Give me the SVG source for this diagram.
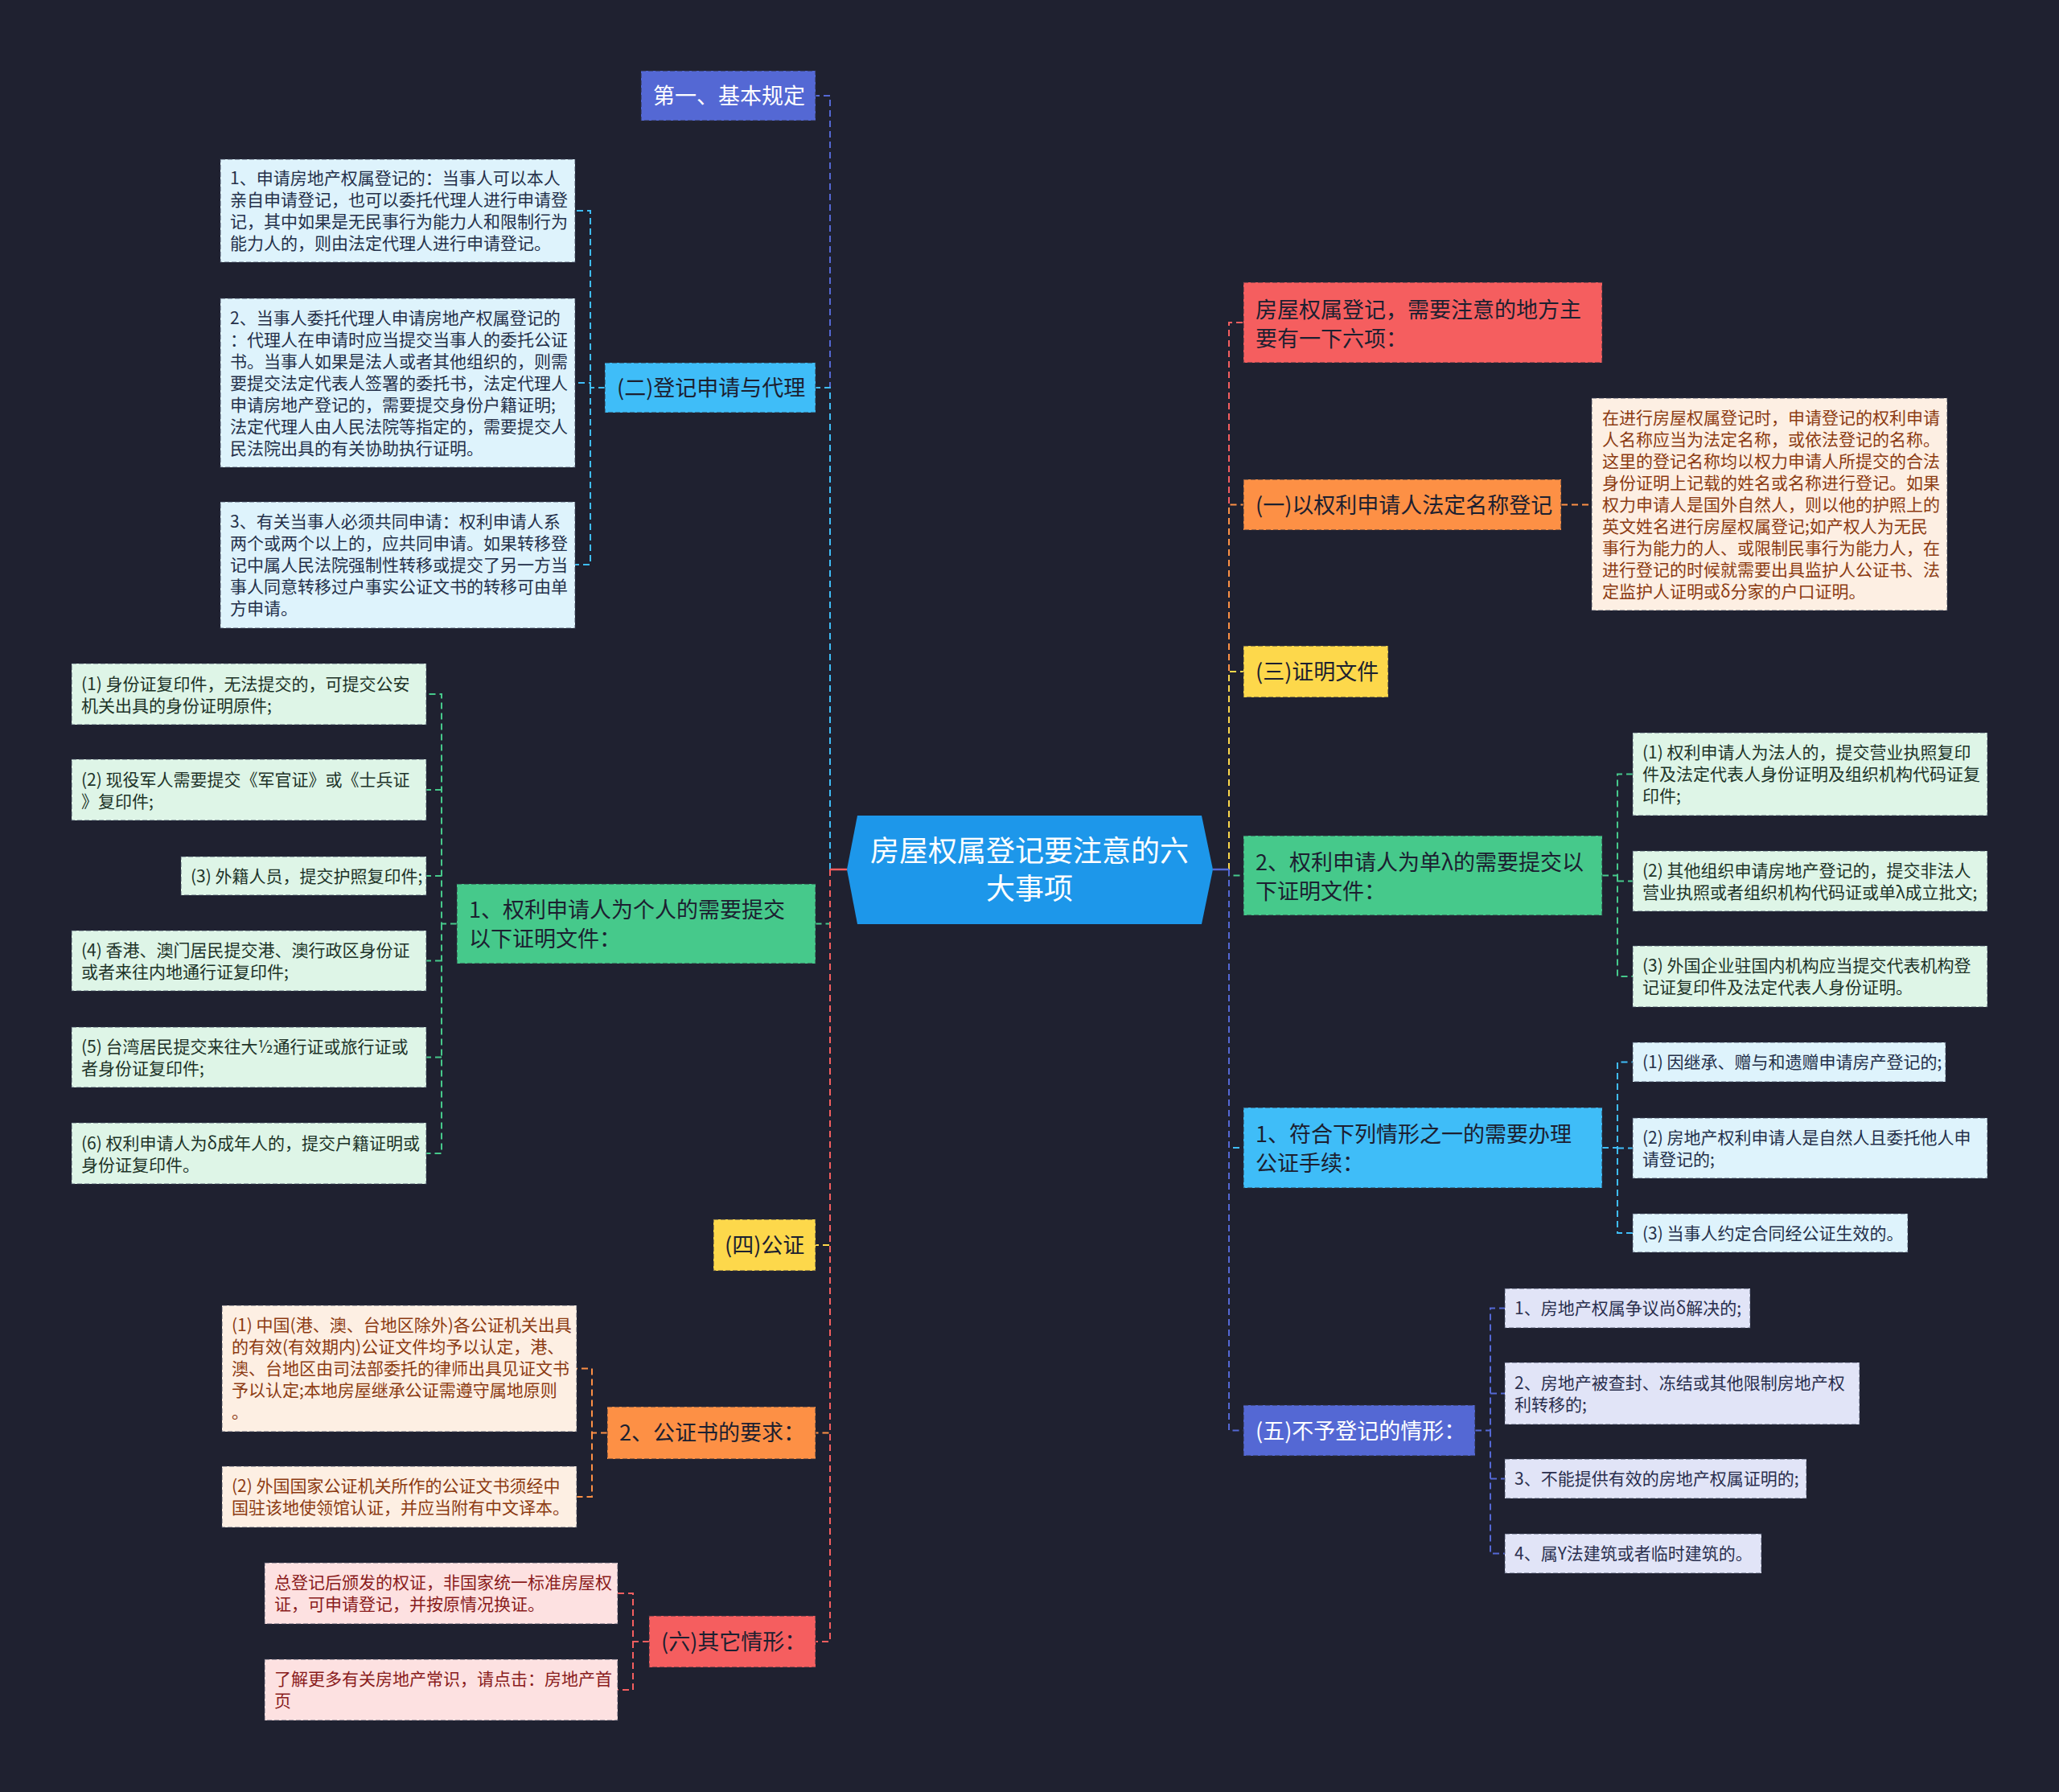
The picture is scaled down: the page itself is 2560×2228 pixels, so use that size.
<svg xmlns="http://www.w3.org/2000/svg" width="2560" height="2228" viewBox="0 0 2560 2228">
<style>
text{font-family:"Noto Sans CJK SC","Noto Sans",sans-serif;}
.m{font-size:27px;fill:#1c2030;}
.mw{font-size:27px;fill:#ffffff;}
.l{font-size:21px;}
.nb{stroke:#2a2c3a;stroke-opacity:.45;stroke-width:2;stroke-dasharray:6 3;}
.lb{stroke:#3a3f55;stroke-opacity:.5;stroke-width:1.5;stroke-dasharray:6 3;}
.c{fill:none;stroke-width:2;stroke-dasharray:8 5;}
.purple{stroke:#5468d4;} .cyan{stroke:#3fbdf8;} .green{stroke:#46c98b;} .yellow{stroke:#fdd84b;} .orange{stroke:#fd9045;} .red{stroke:#f55e5f;}
.fpurple{fill:#5468d4;} .fcyan{fill:#3fbdf8;} .fgreen{fill:#46c98b;} .fyellow{fill:#fdd84b;} .forange{fill:#fd9045;} .fred{fill:#f55e5f;}
.lc{fill:#def3fc;} .lg{fill:#def5e7;} .lp{fill:#fdefe3;} .lk{fill:#fde1e1;} .lv{fill:#e1e4f7;}
.tc{fill:#24304a;} .tg{fill:#203328;} .tp{fill:#8c3b12;} .tk{fill:#8a1c1c;} .tv{fill:#2a2f4e;}
</style>
<rect width="2560" height="2228" fill="#1f2130"/>

<g id="connectors">
  <!-- left top -->
  <path class="c purple" d="M1032,1081 V119 H1014"/>
  <path class="c cyan" d="M1032,1081 V482 H1014"/>
  <!-- left bottom -->
  <path class="c green" d="M1032,1081 V1148.5 H1014"/>
  <path class="c yellow" d="M1032,1081 V1548 H1014"/>
  <path class="c orange" d="M1032,1081 V1781.5 H1014"/>
  <path class="c red" d="M1032,1081 V2041 H1014"/>
  <line x1="1053" y1="1081" x2="1032" y2="1081" stroke="#f55e5f" stroke-width="2.5"/>
  <!-- right top -->
  <path class="c red" d="M1528,1081 V401 H1546"/>
  <path class="c orange" d="M1528,1081 V627.5 H1546"/>
  <path class="c yellow" d="M1528,1081 V835 H1546"/>
  <!-- right bottom -->
  <path class="c green" d="M1528,1081 V1088.5 H1546"/>
  <path class="c cyan" d="M1528,1081 V1427 H1546"/>
  <path class="c purple" d="M1528,1081 V1778.5 H1546"/>
  <line x1="1508" y1="1081" x2="1528" y2="1081" stroke="#5468d4" stroke-width="2.5"/>

  <!-- (二) leaves -->
  <path class="c cyan" d="M752,482 H734 V262 H715 M734,482 V476 H715 M734,482 V702 H715"/>
  <!-- 1、权利 leaves -->
  <path class="c green" d="M568,1148.5 H549 V863 H530 M549,982 H530 M549,1089 H530 M549,1148.5 V1434 H530 M549,1194.5 H530 M549,1314.5 H530"/>
  <!-- 2、公证书 leaves -->
  <path class="c orange" d="M755,1781.5 H736 V1701.5 H717 M736,1781.5 V1861 H717"/>
  <!-- (六) leaves -->
  <path class="c red" d="M807,2041 H787 V1981 H768 M787,2041 V2101 H768"/>
  <!-- B leaf -->
  <path class="c orange" d="M1941,627.5 H1979"/>
  <!-- D leaves -->
  <path class="c green" d="M1992,1088.5 H2011 V962.5 H2030 M2011,1088.5 V1214 H2030 M2011,1095.5 H2030"/>
  <!-- E leaves -->
  <path class="c cyan" d="M1992,1427 H2011 V1320.5 H2030 M2011,1427 V1533 H2030 M2011,1427.5 H2030"/>
  <!-- F leaves -->
  <path class="c purple" d="M1834,1778.5 H1853 V1626.5 H1871 M1853,1778.5 V1931.5 H1871 M1853,1732.5 H1871 M1853,1838.5 H1871"/>
</g>

<g id="center">
  <polygon points="1053,1081 1066,1014 1494,1014 1508,1081 1494,1149 1066,1149" fill="#1d97ea"/>
  <text x="1280" y="1071" text-anchor="middle" font-size="36" fill="#ffffff">房屋权属登记要注意的六</text>
  <text x="1280" y="1118" text-anchor="middle" font-size="36" fill="#ffffff">大事项</text>
</g>

<!-- LEFT main nodes -->
<g id="n-jiben">
  <rect x="797" y="88" width="217" height="62" class="fpurple nb"/>
  <text x="812" y="129" class="mw">第一、基本规定</text>
</g>
<g id="n-er">
  <rect x="752" y="451" width="262" height="62" class="fcyan nb"/>
  <text x="767" y="492" class="m">(二)登记申请与代理</text>
</g>
<g id="n-geren">
  <rect x="568" y="1099" width="446" height="99" class="fgreen nb"/>
  <text x="583" y="1141" class="m">1、权利申请人为个人的需要提交</text>
  <text x="583" y="1177" class="m">以下证明文件：</text>
</g>
<g id="n-si">
  <rect x="887" y="1516" width="127" height="64" class="fyellow nb"/>
  <text x="901" y="1558" class="m">(四)公证</text>
</g>
<g id="n-gzs">
  <rect x="755" y="1749" width="259" height="65" class="forange nb"/>
  <text x="770" y="1791" class="m">2、公证书的要求：</text>
</g>
<g id="n-liu">
  <rect x="807" y="2009" width="207" height="64" class="fred nb"/>
  <text x="822" y="2051" class="m">(六)其它情形：</text>
</g>

<!-- (二) leaves -->
<g id="l-er-1">
  <rect x="274" y="198" width="441" height="128" class="lc lb"/>
  <text class="l tc" x="286" y="229">1、申请房地产权属登记的：当事人可以本人</text>
  <text class="l tc" x="286" y="256">亲自申请登记，也可以委托代理人进行申请登</text>
  <text class="l tc" x="286" y="283">记，其中如果是无民事行为能力人和限制行为</text>
  <text class="l tc" x="286" y="310">能力人的，则由法定代理人进行申请登记。</text>
</g>
<g id="l-er-2">
  <rect x="274" y="371" width="441" height="210" class="lc lb"/>
  <text class="l tc" x="286" y="402.5">2、当事人委托代理人申请房地产权属登记的</text>
  <text class="l tc" x="286" y="429.5">：代理人在申请时应当提交当事人的委托公证</text>
  <text class="l tc" x="286" y="456.5">书。当事人如果是法人或者其他组织的，则需</text>
  <text class="l tc" x="286" y="483.5">要提交法定代表人签署的委托书，法定代理人</text>
  <text class="l tc" x="286" y="510.5">申请房地产登记的，需要提交身份户籍证明;</text>
  <text class="l tc" x="286" y="537.5">法定代理人由人民法院等指定的，需要提交人</text>
  <text class="l tc" x="286" y="564.5">民法院出具的有关协助执行证明。</text>
</g>
<g id="l-er-3">
  <rect x="274" y="624" width="441" height="157" class="lc lb"/>
  <text class="l tc" x="286" y="656">3、有关当事人必须共同申请：权利申请人系</text>
  <text class="l tc" x="286" y="683">两个或两个以上的，应共同申请。如果转移登</text>
  <text class="l tc" x="286" y="710">记中属人民法院强制性转移或提交了另一方当</text>
  <text class="l tc" x="286" y="737">事人同意转移过户事实公证文书的转移可由单</text>
  <text class="l tc" x="286" y="764">方申请。</text>
</g>

<!-- 个人 leaves -->
<g id="l-gr-1">
  <rect x="89" y="825" width="441" height="76" class="lg lb"/>
  <text class="l tg" x="101" y="858">(1) 身份证复印件，无法提交的，可提交公安</text>
  <text class="l tg" x="101" y="885">机关出具的身份证明原件;</text>
</g>
<g id="l-gr-2">
  <rect x="89" y="944" width="441" height="76" class="lg lb"/>
  <text class="l tg" x="101" y="977">(2) 现役军人需要提交《军官证》或《士兵证</text>
  <text class="l tg" x="101" y="1004">》复印件;</text>
</g>
<g id="l-gr-3">
  <rect x="225" y="1065" width="305" height="48" class="lg lb"/>
  <text class="l tg" x="237" y="1096.5">(3) 外籍人员，提交护照复印件;</text>
</g>
<g id="l-gr-4">
  <rect x="89" y="1157" width="441" height="75" class="lg lb"/>
  <text class="l tg" x="101" y="1189">(4) 香港、澳门居民提交港、澳行政区身份证</text>
  <text class="l tg" x="101" y="1216">或者来往内地通行证复印件;</text>
</g>
<g id="l-gr-5">
  <rect x="89" y="1277" width="441" height="75" class="lg lb"/>
  <text class="l tg" x="101" y="1309">(5) 台湾居民提交来往大½通行证或旅行证或</text>
  <text class="l tg" x="101" y="1336">者身份证复印件;</text>
</g>
<g id="l-gr-6">
  <rect x="89" y="1396" width="441" height="76" class="lg lb"/>
  <text class="l tg" x="101" y="1429">(6) 权利申请人为δ成年人的，提交户籍证明或</text>
  <text class="l tg" x="101" y="1456">身份证复印件。</text>
</g>

<!-- 公证书 leaves -->
<g id="l-gz-1">
  <rect x="276" y="1623" width="441" height="157" class="lp lb"/>
  <text class="l tp" x="288" y="1655">(1) 中国(港、澳、台地区除外)各公证机关出具</text>
  <text class="l tp" x="288" y="1682">的有效(有效期内)公证文件均予以认定，港、</text>
  <text class="l tp" x="288" y="1709">澳、台地区由司法部委托的律师出具见证文书</text>
  <text class="l tp" x="288" y="1736">予以认定;本地房屋继承公证需遵守属地原则</text>
  <text class="l tp" x="288" y="1763">。</text>
</g>
<g id="l-gz-2">
  <rect x="276" y="1823" width="441" height="76" class="lp lb"/>
  <text class="l tp" x="288" y="1855">(2) 外国国家公证机关所作的公证文书须经中</text>
  <text class="l tp" x="288" y="1882">国驻该地使领馆认证，并应当附有中文译本。</text>
</g>

<!-- 其它情形 leaves -->
<g id="l-qt-1">
  <rect x="329" y="1943" width="439" height="76" class="lk lb"/>
  <text class="l tk" x="341" y="1975">总登记后颁发的权证，非国家统一标准房屋权</text>
  <text class="l tk" x="341" y="2002">证，可申请登记，并按原情况换证。</text>
</g>
<g id="l-qt-2">
  <rect x="329" y="2063" width="439" height="76" class="lk lb"/>
  <text class="l tk" x="341" y="2095">了解更多有关房地产常识，请点击：房地产首</text>
  <text class="l tk" x="341" y="2122">页</text>
</g>

<!-- RIGHT main nodes -->
<g id="n-liuxiang">
  <rect x="1546" y="351" width="446" height="100" class="fred nb"/>
  <text x="1561" y="395" class="m">房屋权属登记，需要注意的地方主</text>
  <text x="1561" y="431" class="m">要有一下六项：</text>
</g>
<g id="n-yi">
  <rect x="1546" y="596" width="395" height="63" class="forange nb"/>
  <text x="1561" y="637.5" class="m">(一)以权利申请人法定名称登记</text>
</g>
<g id="n-san">
  <rect x="1546" y="803" width="180" height="64" class="fyellow nb"/>
  <text x="1561" y="845" class="m">(三)证明文件</text>
</g>
<g id="n-danwei">
  <rect x="1546" y="1039" width="446" height="99" class="fgreen nb"/>
  <text x="1561" y="1082" class="m">2、权利申请人为单λ的需要提交以</text>
  <text x="1561" y="1118" class="m">下证明文件：</text>
</g>
<g id="n-gongzheng">
  <rect x="1546" y="1377" width="446" height="100" class="fcyan nb"/>
  <text x="1561" y="1420" class="m">1、符合下列情形之一的需要办理</text>
  <text x="1561" y="1456" class="m">公证手续：</text>
</g>
<g id="n-wu">
  <rect x="1546" y="1747" width="288" height="63" class="fpurple nb"/>
  <text x="1561" y="1788.5" class="mw">(五)不予登记的情形：</text>
</g>

<!-- B leaf -->
<g id="l-yi-1">
  <rect x="1979" y="495" width="442" height="264" class="lp lb"/>
  <text class="l tp" x="1992" y="527">在进行房屋权属登记时，申请登记的权利申请</text>
  <text class="l tp" x="1992" y="554">人名称应当为法定名称，或依法登记的名称。</text>
  <text class="l tp" x="1992" y="581">这里的登记名称均以权力申请人所提交的合法</text>
  <text class="l tp" x="1992" y="608">身份证明上记载的姓名或名称进行登记。如果</text>
  <text class="l tp" x="1992" y="635">权力申请人是国外自然人，则以他的护照上的</text>
  <text class="l tp" x="1992" y="662">英文姓名进行房屋权属登记;如产权人为无民</text>
  <text class="l tp" x="1992" y="689">事行为能力的人、或限制民事行为能力人，在</text>
  <text class="l tp" x="1992" y="716">进行登记的时候就需要出具监护人公证书、法</text>
  <text class="l tp" x="1992" y="743">定监护人证明或δ分家的户口证明。</text>
</g>

<!-- D leaves -->
<g id="l-dw-1">
  <rect x="2030" y="911" width="441" height="103" class="lg lb"/>
  <text class="l tg" x="2042" y="943">(1) 权利申请人为法人的，提交营业执照复印</text>
  <text class="l tg" x="2042" y="970">件及法定代表人身份证明及组织机构代码证复</text>
  <text class="l tg" x="2042" y="997">印件;</text>
</g>
<g id="l-dw-2">
  <rect x="2030" y="1058" width="441" height="75" class="lg lb"/>
  <text class="l tg" x="2042" y="1089.5">(2) 其他组织申请房地产登记的，提交非法人</text>
  <text class="l tg" x="2042" y="1116.5">营业执照或者组织机构代码证或单λ成立批文;</text>
</g>
<g id="l-dw-3">
  <rect x="2030" y="1176" width="441" height="76" class="lg lb"/>
  <text class="l tg" x="2042" y="1208">(3) 外国企业驻国内机构应当提交代表机构登</text>
  <text class="l tg" x="2042" y="1235">记证复印件及法定代表人身份证明。</text>
</g>

<!-- E leaves -->
<g id="l-gzs-1">
  <rect x="2030" y="1296" width="389" height="49" class="lc lb"/>
  <text class="l tc" x="2042" y="1328">(1) 因继承、赠与和遗赠申请房产登记的;</text>
</g>
<g id="l-gzs-2">
  <rect x="2030" y="1390" width="441" height="75" class="lc lb"/>
  <text class="l tc" x="2042" y="1421.5">(2) 房地产权利申请人是自然人且委托他人申</text>
  <text class="l tc" x="2042" y="1448.5">请登记的;</text>
</g>
<g id="l-gzs-3">
  <rect x="2030" y="1509" width="342" height="48" class="lc lb"/>
  <text class="l tc" x="2042" y="1540.5">(3) 当事人约定合同经公证生效的。</text>
</g>

<!-- F leaves -->
<g id="l-wu-1">
  <rect x="1871" y="1602" width="305" height="49" class="lv lb"/>
  <text class="l tv" x="1883" y="1634">1、房地产权属争议尚δ解决的;</text>
</g>
<g id="l-wu-2">
  <rect x="1871" y="1694" width="441" height="77" class="lv lb"/>
  <text class="l tv" x="1883" y="1726.5">2、房地产被查封、冻结或其他限制房地产权</text>
  <text class="l tv" x="1883" y="1753.5">利转移的;</text>
</g>
<g id="l-wu-3">
  <rect x="1871" y="1814" width="375" height="49" class="lv lb"/>
  <text class="l tv" x="1883" y="1846">3、不能提供有效的房地产权属证明的;</text>
</g>
<g id="l-wu-4">
  <rect x="1871" y="1907" width="319" height="49" class="lv lb"/>
  <text class="l tv" x="1883" y="1939">4、属Y法建筑或者临时建筑的。</text>
</g>
</svg>
